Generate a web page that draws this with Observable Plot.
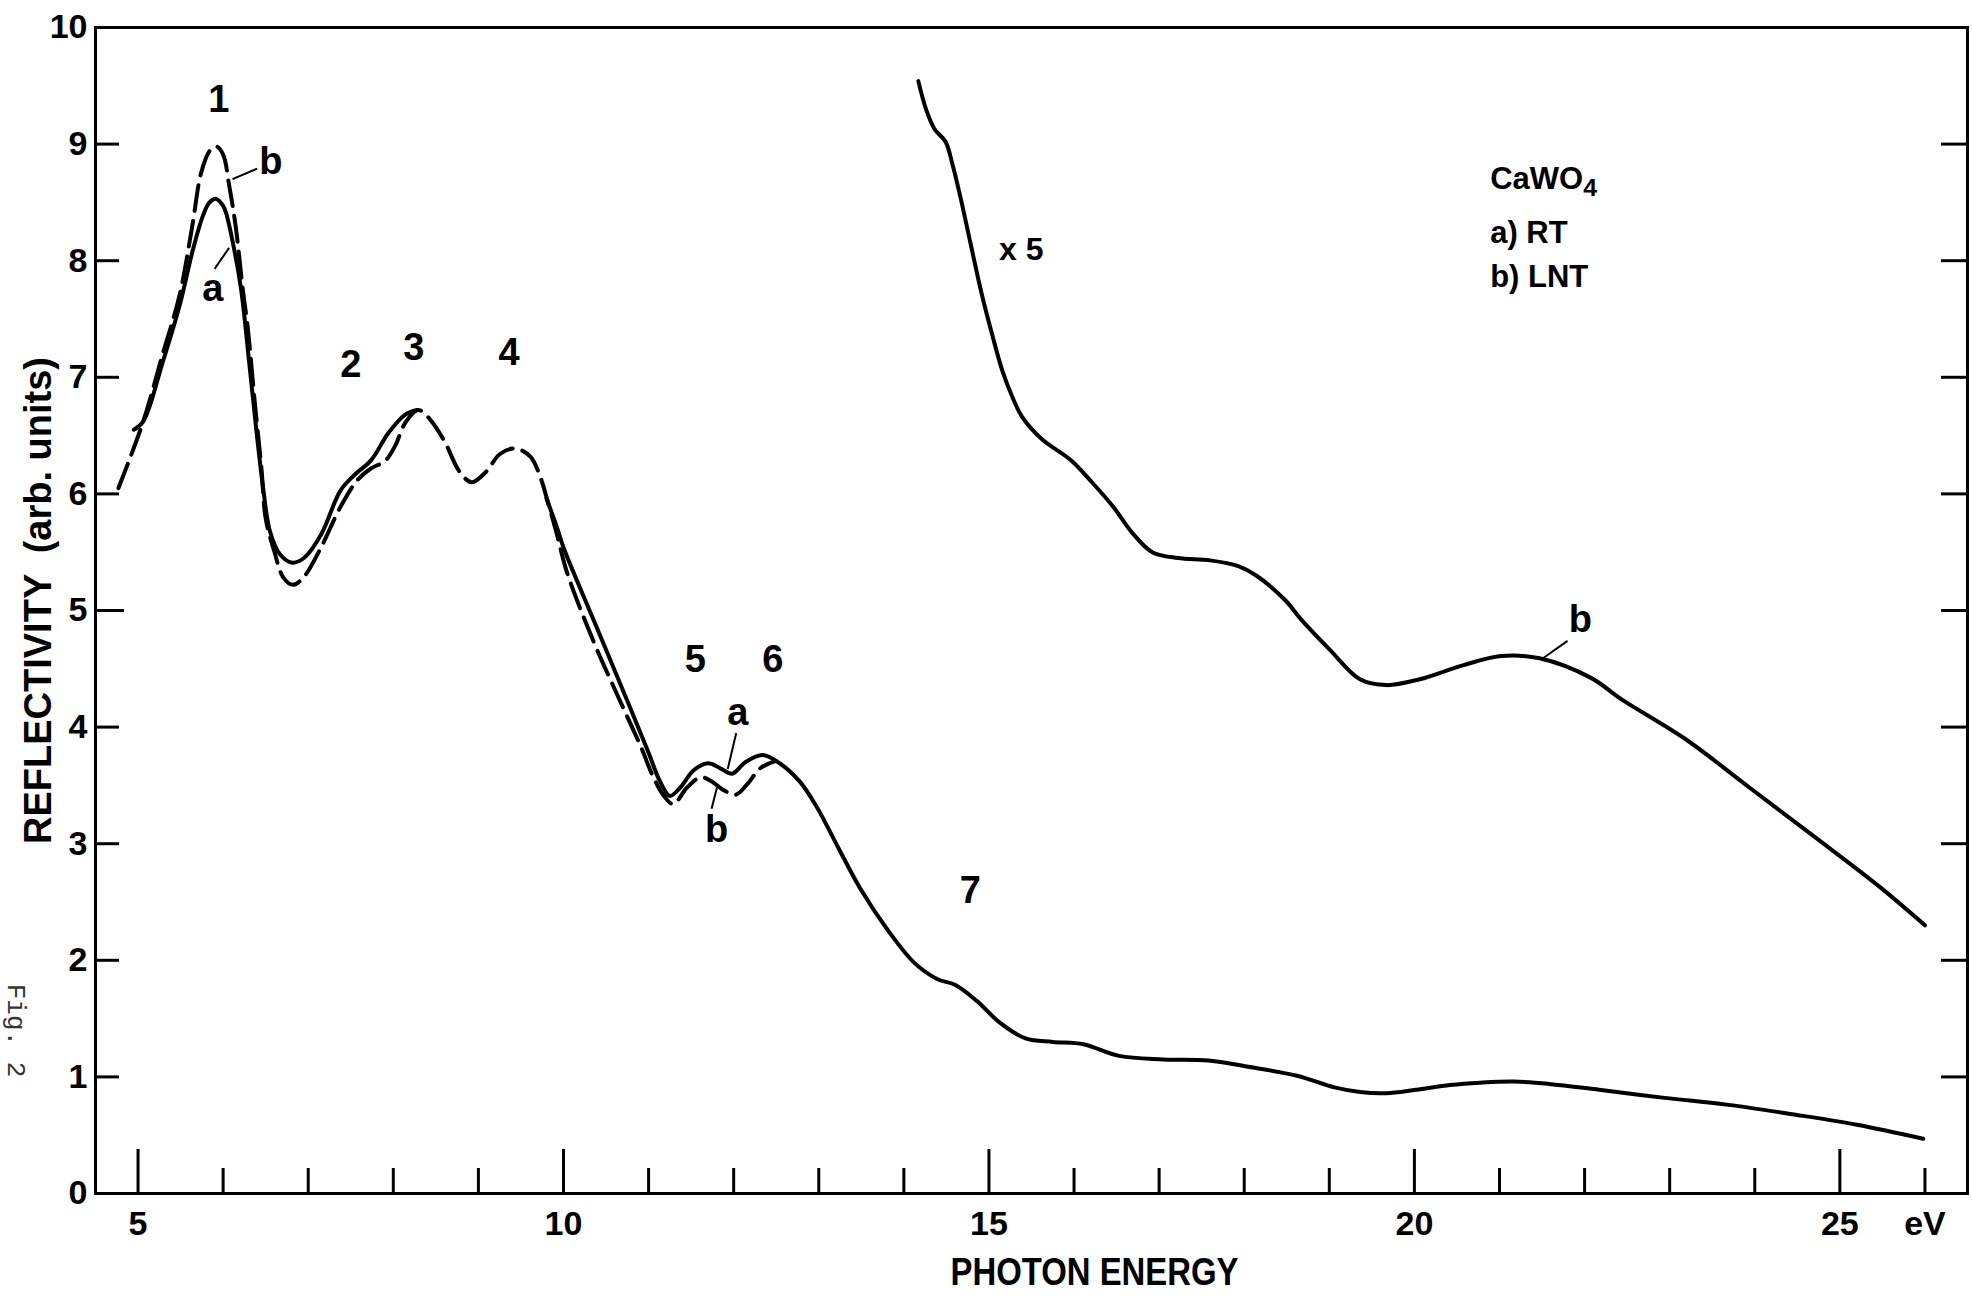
<!DOCTYPE html>
<html><head><meta charset="utf-8">
<script src="https://cdn.jsdelivr.net/npm/d3@7"></script>
<script src="https://cdn.jsdelivr.net/npm/@observablehq/plot@0.6"></script>
<style>
html,body{margin:0;padding:0;background:#fff;}
#chart svg{display:block;}
g[aria-label="legend"] text{letter-spacing:3px;}
</style></head><body><div id="chart"></div>
<script>
// ---- data (photon energy in eV, reflectivity in arb. units) ----
// a) RT (solid); null marks the stretch where it is hidden under curve b
const rtEnergy = [4.95,5.06,5.29,5.49,5.64,5.76,5.84,5.92,6.0,6.03,6.11,6.21,6.31,6.39,6.47,6.55,6.67,6.81,6.95,7.15,7.38,7.54,7.74,7.94,8.14,8.28,
  9.0,
  9.8,9.92,10.0,10.37,10.77,11.0,11.13,11.25,11.37,11.53,11.7,11.86,11.98,12.14,12.34,12.54,12.78,12.98,13.24,13.5,13.81,14.12,14.39,14.6,14.86,15.12,15.43,15.75,16.11,16.53,17.05,17.58,18.1,18.62,19.06,19.36,19.67,20.02,20.42,20.77,21.17,21.58,22.17,22.94,23.69,24.44,25.2,25.98];
const rtRefl = [6.55,6.62,7.13,7.62,8.08,8.38,8.5,8.53,8.47,8.42,8.17,7.76,7.1,6.55,6.05,5.68,5.48,5.41,5.45,5.65,6.03,6.16,6.29,6.52,6.68,6.72,
  null,
  5.96,5.72,5.54,4.89,4.19,3.78,3.54,3.41,3.48,3.63,3.69,3.64,3.6,3.7,3.76,3.69,3.53,3.31,2.95,2.6,2.26,1.98,1.84,1.79,1.65,1.47,1.33,1.3,1.28,1.18,1.15,1.14,1.08,1.01,0.91,0.87,0.86,0.89,0.93,0.95,0.96,0.94,0.89,0.82,0.76,0.68,0.59,0.47];

// b) LNT (dashed)
const lntEnergy = [4.77,5.06,5.29,5.49,5.64,5.74,5.84,5.92,6.0,6.07,6.15,6.23,6.29,6.37,6.45,6.5,6.6,6.71,6.82,6.95,7.15,7.38,7.58,7.74,7.9,8.02,8.14,8.29,8.43,8.61,8.77,8.92,9.09,9.25,9.43,9.61,9.72,9.82,9.92,10.04,10.35,10.63,10.91,11.05,11.17,11.29,11.45,11.61,11.73,11.86,12.02,12.16,12.3,12.42,12.5];
const lntRefl = [6.05,6.62,7.2,7.71,8.31,8.75,8.94,8.98,8.91,8.65,8.28,7.76,7.42,6.8,6.22,5.79,5.51,5.28,5.22,5.29,5.54,5.89,6.12,6.22,6.28,6.41,6.61,6.72,6.64,6.44,6.2,6.1,6.19,6.34,6.39,6.32,6.16,5.92,5.66,5.33,4.74,4.28,3.83,3.58,3.42,3.34,3.48,3.57,3.54,3.47,3.42,3.51,3.64,3.69,3.71];

// b) LNT above 14 eV, multiplied by 5
const lntX5Energy = [14.17,14.26,14.36,14.49,14.57,14.66,14.78,14.91,15.04,15.16,15.27,15.39,15.62,15.96,16.21,16.46,16.68,16.92,17.22,17.6,17.93,18.14,18.48,18.66,19.01,19.36,19.67,20.06,20.57,21.02,21.47,22.08,22.43,23.18,23.94,24.7,25.45,26.0];
const lntX5Refl = [9.54,9.3,9.13,9.02,8.83,8.56,8.16,7.73,7.36,7.05,6.84,6.66,6.47,6.29,6.1,5.89,5.67,5.5,5.45,5.43,5.38,5.3,5.09,4.93,4.66,4.41,4.36,4.41,4.53,4.61,4.59,4.42,4.24,3.9,3.48,3.06,2.64,2.3];

// axis ticks
const yTickValues = [0,1,2,3,4,5,6,7,8,9,10];
const yInnerTicks = [1,2,3,4,6,7,8,9];
const yMidTick = [5];
const xMajorTicks = [5,10,15,20,25];
const xMinorTicks = [6,7,8,9,11,12,13,14,16,17,18,19,21,22,23,24,26];
const xTickLabels = [5,10,15,20,25,26];
const xUnitLabel = "eV";

// structure labels
const peakText = ["1","2","3","4","5","6","7"];
const peakEnergy = [5.95,7.5,8.24,9.36,11.55,12.46,14.78];
const peakRefl = [9.38,7.11,7.25,7.21,4.58,4.58,2.6];
const scaleNote = "x 5";
const scaleNoteEnergy = [15.38];
const scaleNoteRefl = [8.09];

// curve tags with leader lines
const tagText = ["b","a","a","b","b"];
const tagEnergy = [6.56,5.88,12.05,11.8,21.95];
const tagRefl = [8.85,7.76,4.12,3.12,4.92];
const leaderFromE = [6.4,5.9,12.03,11.74,21.8];
const leaderFromR = [8.79,7.93,3.95,3.3,4.74];
const leaderToE = [6.11,6.07,11.93,11.81,21.49];
const leaderToR = [8.7,8.11,3.64,3.5,4.58];

// legend
const legendText = ["CaWO4","a) RT","b) LNT"];
const legendEnergy = [20.89,20.89,20.89];
const legendRefl = [8.7,8.24,7.86];

const yTitle = "REFLECTIVITY  (arb. units)";
const xTitle = "PHOTON ENERGY";
const figTag = "Fig. 2";

// ---- tables ----
const rt = rtEnergy.map((e,i)=>({e, r: rtRefl[i]}));
const lnt = lntEnergy.map((e,i)=>({e, r: lntRefl[i]}));
const lntX5 = lntX5Energy.map((e,i)=>({e, r: lntX5Refl[i]}));
const peaks = peakText.map((t,i)=>({t, e: peakEnergy[i], r: peakRefl[i]}));
const notes = scaleNoteEnergy.map((e,i)=>({t: scaleNote, e, r: scaleNoteRefl[i]}));
const tags = tagText.map((t,i)=>({t, e: tagEnergy[i], r: tagRefl[i]}));
const leaders = leaderFromE.map((e,i)=>({x1: e, y1: leaderFromR[i], x2: leaderToE[i], y2: leaderToR[i]}));
const legend = legendText.map((t,i)=>({t, e: legendEnergy[i], r: legendRefl[i]}));

const sans = '"Liberation Sans",Arial,sans-serif';

const chart = Plot.plot({
  width: 1972, height: 1296,
  marginLeft: 95, marginRight: 5, marginTop: 27, marginBottom: 103,
  x: {domain: [4.5, 26.5]},
  y: {domain: [0, 10]},
  style: {fontFamily: sans, color: "#000", background: "#fff"},
  marks: [
    Plot.frame({strokeWidth: 3}),
    // inward ticks
    Plot.axisY(yInnerTicks, {anchor: "left", tickSize: -24, fill: "none", strokeWidth: 3, label: null}),
    Plot.axisY(yMidTick, {anchor: "left", tickSize: -29, fill: "none", strokeWidth: 3, label: null}),
    Plot.axisY(yInnerTicks.concat(yMidTick), {anchor: "right", tickSize: -27, fill: "none", strokeWidth: 3, label: null}),
    Plot.axisX(xMajorTicks, {anchor: "bottom", tickSize: -44, fill: "none", strokeWidth: 3, label: null}),
    Plot.axisX(xMinorTicks, {anchor: "bottom", tickSize: -25, fill: "none", strokeWidth: 3, label: null}),
    // tick labels
    Plot.axisY(yTickValues, {anchor: "left", tickSize: 0, tickPadding: 8, fontSize: 34, fontWeight: "bold", label: null,
      tickFormat: d => String(d)}),
    Plot.axisX(xTickLabels, {anchor: "bottom", tickSize: 0, tickPadding: 17, fontSize: 34, fontWeight: "bold", label: null,
      tickFormat: d => d === 26 ? xUnitLabel : String(d)}),
    // curves
    Plot.line(lnt, {x: "e", y: "r", curve: "catmull-rom", stroke: "#000", strokeWidth: 4, strokeDasharray: "26,10"}),
    Plot.line(rt, {x: "e", y: "r", curve: "catmull-rom", stroke: "#000", strokeWidth: 4}),
    Plot.line(lntX5, {x: "e", y: "r", curve: "catmull-rom", stroke: "#000", strokeWidth: 4}),
    // labels
    Plot.text(peaks, {x: "e", y: "r", text: "t", fontSize: 38, fontWeight: "bold"}),
    Plot.text(notes, {x: "e", y: "r", text: "t", fontSize: 32, fontWeight: "bold"}),
    Plot.text(tags, {x: "e", y: "r", text: "t", fontSize: 38, fontWeight: "bold"}),
    Plot.link(leaders, {x1: "x1", y1: "y1", x2: "x2", y2: "y2", stroke: "#000", strokeWidth: 2}),
    Plot.text(legend, {x: "e", y: "r", text: "t", textAnchor: "start", fontSize: 31, fontWeight: "bold", ariaLabel: "legend"}),
    // titles
    Plot.text([yTitle], {frameAnchor: "left", rotate: -90, dx: -57, dy: -10, textAnchor: "middle", lineAnchor: "middle", fontSize: 38, fontWeight: "bold"}),
    Plot.text([xTitle], {frameAnchor: "bottom", dx: 63, dy: 79, textAnchor: "middle", lineAnchor: "middle", fontSize: 39, fontWeight: "bold", ariaLabel: "x-title"}),
    Plot.text([figTag], {frameAnchor: "left", rotate: 90, dx: -79, dy: 420, textAnchor: "middle", lineAnchor: "middle", fontSize: 26, fontFamily: '"Liberation Mono",monospace', fill: "#333"})
  ]
});

// subscript for CaWO4
d3.select(chart).selectAll("text").filter(function(){ return this.textContent === "CaWO4"; })
  .each(function(){
    const t = d3.select(this);
    t.text("CaWO");
    t.append("tspan").attr("dy", "0.3em").attr("font-size", "0.8em").text("4");
  });
// condensed lettering of the x title
d3.select(chart).selectAll("text").filter(function(){ return this.textContent === xTitle; })
  .attr("textLength", 288).attr("lengthAdjust", "spacingAndGlyphs");

document.getElementById("chart").appendChild(chart);
</script></body></html>
